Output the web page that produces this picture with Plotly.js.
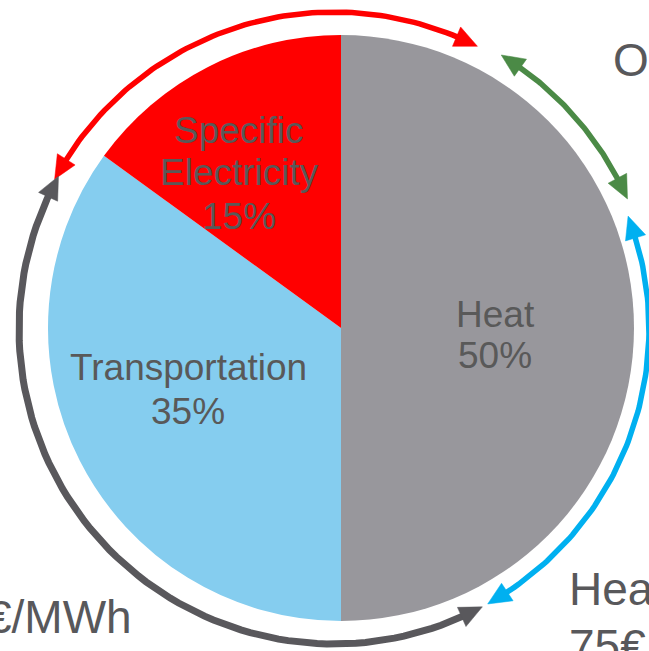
<!DOCTYPE html>
<html>
<head>
<meta charset="utf-8">
<script src="https://cdn.plot.ly/plotly-3.0.1.min.js"></script>
<style>html,body{margin:0;padding:0;background:#fff;}#chart{width:649px;height:651px;}</style>
</head>
<body>
<div id="chart"></div>
<script>
// ---- data ----
const categories = ['Heat', 'Transportation', 'Specific Electricity'];
const shares = [50, 35, 15];
const sliceColors = ['#98979C', '#85CDEF', '#FF0000'];
const labelLines = [['Heat'], ['Transportation'], ['Specific', 'Electricity']];
const outerTexts = ['O', 'Hea', '75€', '€/MWh'];

// ---- layout geometry (pixels) ----
const W = 649, H = 651;
const pie = {cx: 341, cy: 328, r: 293};
const ring = {cx: 334, cy: 329};
const arcs = [
  {color: '#FF0000', r: 317, a0: 298.2, a1: 386.9, w: 5.5},
  {color: '#4B8A46', r: 321, a0: 31.4, a1: 66.1, w: 5.5},
  {color: '#00B0F0', r: 315, a0: 69.0, a1: 150.8, w: 5.5},
  {color: '#59585C', r: 315, a0: 151.9, a1: 299.0, w: 7}
];
const labelPos = [
  {x: 495, y: [314, 355]},
  {x: 188, y: [367, 411]},
  {x: 239, y: [130, 172, 216]}
];

const rad = d => d * Math.PI / 180;
function pt(r, deg) { return [ring.cx + r * Math.sin(rad(deg)), ring.cy - r * Math.cos(rad(deg))]; }

const traces = [];
traces.push({
  type: 'pie',
  labels: categories,
  values: shares,
  marker: {colors: sliceColors, line: {width: 0}},
  sort: false,
  direction: 'clockwise',
  rotation: 0,
  textinfo: 'none',
  hoverinfo: 'label+percent',
  showlegend: false,
  domain: {x: [(pie.cx - pie.r) / W, (pie.cx + pie.r) / W], y: [(H - pie.cy - pie.r) / H, (H - pie.cy + pie.r) / H]}
});

const L = 23, hw = 10.5;
arcs.forEach(a => {
  const dA = L / a.r * 180 / Math.PI;
  const s = a.a0 + dA * 0.7, e = a.a1 - dA * 0.7;
  const xs = [], ys = [];
  const n = 80;
  for (let i = 0; i <= n; i++) {
    const p = pt(a.r, s + (e - s) * i / n);
    xs.push(p[0]); ys.push(p[1]);
  }
  traces.push({type: 'scatter', mode: 'lines', x: xs, y: ys, line: {color: a.color, width: a.w},
    hoverinfo: 'skip', showlegend: false});
  [[a.a1, a.a1 - dA], [a.a0, a.a0 + dA]].forEach(([tipA, baseA]) => {
    const tip = pt(a.r, tipA);
    const b1 = pt(a.r + hw, baseA), b2 = pt(a.r - hw, baseA);
    traces.push({type: 'scatter', mode: 'lines', x: [tip[0], b1[0], b2[0], tip[0]], y: [tip[1], b1[1], b2[1], tip[1]],
      fill: 'toself', fillcolor: a.color, line: {color: a.color, width: 0.5}, hoverinfo: 'skip', showlegend: false});
  });
});

const annotations = [];
const labFont = {family: 'Liberation Sans, Arial, sans-serif', size: 37, color: '#595959'};
categories.forEach((c, i) => {
  const lines = labelLines[i].concat([shares[i] + '%']);
  lines.forEach((t, j) => {
    annotations.push({xref: 'x', yref: 'y', x: labelPos[i].x, y: labelPos[i].y[j], text: t, showarrow: false,
      xanchor: 'center', yanchor: 'middle', font: labFont});
  });
});
const outFont = {family: 'Liberation Sans, Arial, sans-serif', size: 46, color: '#58585B'};
const outerPos = [
  {x: 611, y: 60, xa: 'left'},
  {x: 567, y: 589, xa: 'left'},
  {x: 567, y: 646, xa: 'left'},
  {x: 134, y: 617, xa: 'right'}
];
outerTexts.forEach((t, i) => {
  annotations.push({xref: 'x', yref: 'y', x: outerPos[i].x, y: outerPos[i].y, text: t, showarrow: false,
    xanchor: outerPos[i].xa, yanchor: 'middle', font: outFont});
});

const layout = {
  width: W, height: H,
  margin: {l: 0, r: 0, t: 0, b: 0, pad: 0},
  paper_bgcolor: '#ffffff', plot_bgcolor: '#ffffff',
  xaxis: {range: [0, W], visible: false, fixedrange: true},
  yaxis: {range: [H, 0], visible: false, fixedrange: true},
  showlegend: false,
  annotations: annotations
};
Plotly.newPlot('chart', traces, layout, {displayModeBar: false, staticPlot: true});
</script>
</body>
</html>
